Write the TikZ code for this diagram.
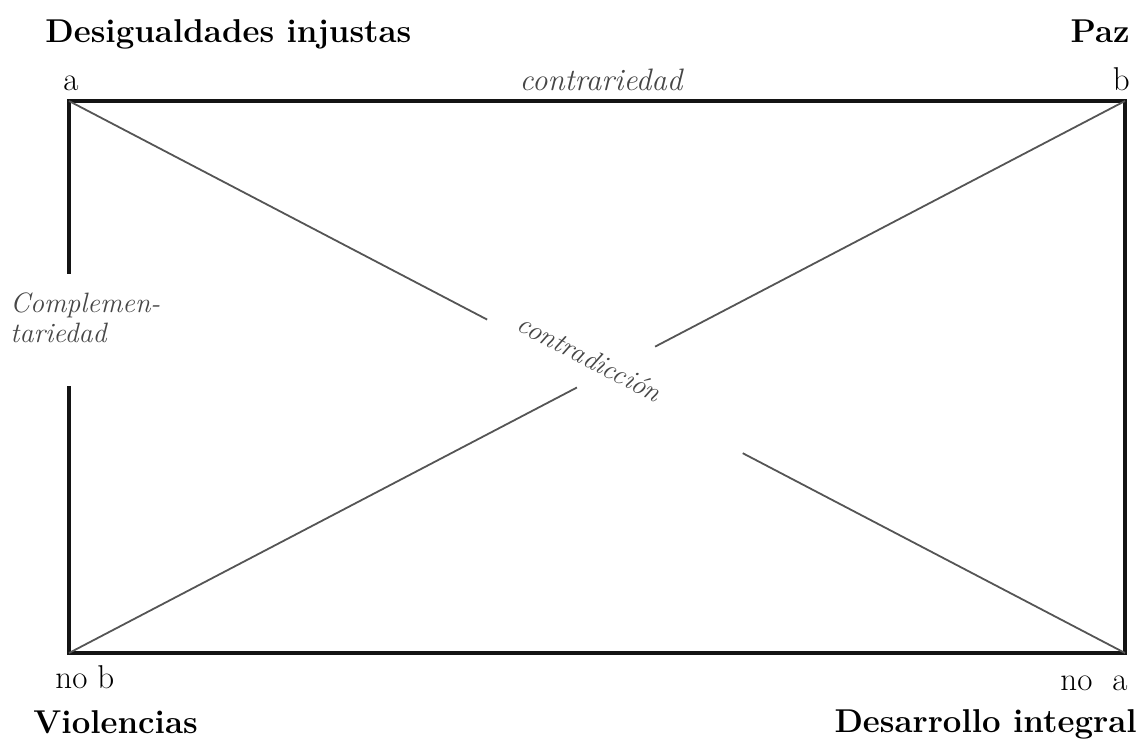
\documentclass[tikz,border=0pt]{standalone}
\usepackage{tikz}
\usetikzlibrary{calc,positioning}
\definecolor{ink}{RGB}{20,20,20}
\definecolor{diag}{RGB}{85,85,85}
\definecolor{soft}{RGB}{70,70,70}
\tikzset{
  corner/.style={font=\fontsize{16.5}{19}\selectfont,inner sep=0pt},
  pole/.style={font=\fontsize{16.5}{19}\selectfont\bfseries,inner sep=0pt},
  rel/.style={font=\fontsize{14}{15}\selectfont\itshape,text=soft,inner sep=0pt,align=left},
  side/.style={draw=ink,line width=1.6pt},
  cross/.style={draw=diag,line width=0.9pt}
}
\begin{document}
\begin{tikzpicture}[x=0.5pt,y=-0.5pt]
\useasboundingbox (0,0) rectangle (1138,740);
\coordinate (a) at (69,101);
\coordinate (b) at (1125,101);
\coordinate (nb) at (69,653);
\coordinate (na) at (1125,653);
\node[pole,anchor=base west] (des) at (45,42) {Desigualdades injustas};
\node[pole,anchor=base east] (paz) at (1130,42) {Paz};
\node[pole,anchor=base west] (vio) at (33,733) {Violencias};
\node[pole,anchor=base east] (dint) at (1137,732) {Desarrollo integral};
\node[corner,anchor=base west] (la) at (63,90) {a};
\node[corner,anchor=base east] (lb) at (1130,90) {b};
\node[corner,anchor=base west] (lnb) at (55,688) {no b};
\node[corner,anchor=base east] (lna) at (1128,690) {no\hspace{10pt}a};
\node[rel,anchor=base,font=\fontsize{15.5}{16}\selectfont\itshape] (contr) at (601,90) {contrariedad};
\node[rel,anchor=west] (comp) at (10,318) {Complemen-\\tariedad};
\node[rel,rotate=-27.6] (ctd) at (590,358) {contradicción};
\coordinate (gapT) at (69,272);
\coordinate (gapB) at (69,388);
\coordinate (g1) at ($(a)!0.396!(na)$);
\coordinate (g2) at ($(a)!0.638!(na)$);
\coordinate (g3) at ($(nb)!0.481!(b)$);
\coordinate (g4) at ($(nb)!0.555!(b)$);
\foreach \x/\y in {a/b,b/na,nb/na,a/gapT,gapB/nb} \draw[side,line cap=rect] (\x) -- (\y);
\foreach \x/\y in {a/g1,g2/na,nb/g3,g4/b} \draw[cross] (\x) -- (\y);
\end{tikzpicture}
\end{document}
